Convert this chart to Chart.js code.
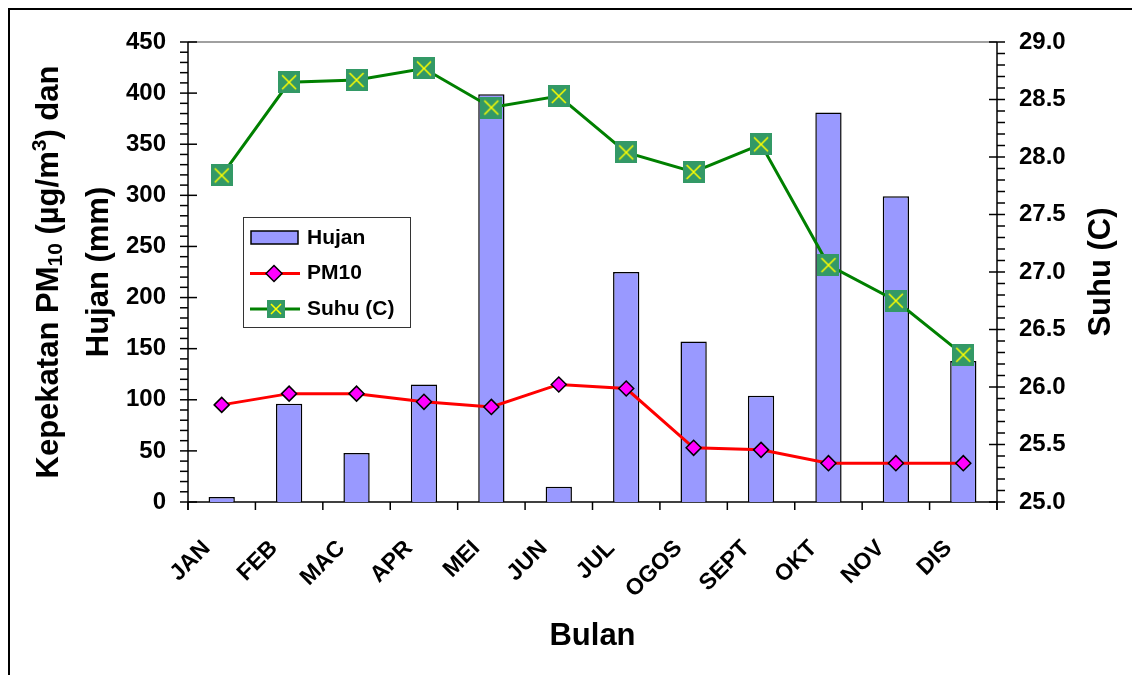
<!DOCTYPE html>
<html>
<head>
<meta charset="utf-8">
<title>Hujan, PM10 dan Suhu</title>
<script src="https://cdn.jsdelivr.net/npm/chart.js"></script>
<style>
  html, body { margin: 0; padding: 0; background: #fff; }
  #wadah { width: 1132px; height: 675px; }
</style>
</head>
<body>
<div id="wadah"><canvas id="grafik"></canvas></div>
<script>
// Data bulanan
const bulan = ["JAN", "FEB", "MAC", "APR", "MEI", "JUN", "JUL", "OGOS", "SEPT", "OKT", "NOV", "DIS"];
const hujan = [5, 96, 48, 115, 399, 15, 225, 157, 104, 381, 299, 138]; // mm
const pm10 = [95, 106, 106, 98, 93, 115, 111, 53, 51, 38, 38, 38]; // ug/m3
const suhu = [27.84, 28.65, 28.67, 28.77, 28.43, 28.53, 28.04, 27.87, 28.11, 27.06, 26.75, 26.28]; // C

// Skala paksi
const kiriMin = 0, kiriMax = 450, kiriLangkah = 50, kiriMinor = 10;
const kananMin = 25, kananMax = 29, kananLangkah = 0.5, kananMinor = 0.1;

const HURUF = '"Liberation Sans", Arial, sans-serif';
Chart.defaults.font.family = HURUF;
Chart.defaults.color = "#000";

//----------------------------- penanda suhu: kotak hijau dengan silang kuning
function buatPenandaSuhu(ukuran) {
  const c = document.createElement("canvas");
  c.width = ukuran;
  c.height = ukuran;
  const g = c.getContext("2d");
  g.fillStyle = "#339966";
  g.fillRect(0, 0, ukuran, ukuran);
  g.strokeStyle = "#ffff00";
  g.lineWidth = 1.5;
  const t = 4;
  g.beginPath();
  g.moveTo(t, t);
  g.lineTo(ukuran - t, ukuran - t);
  g.moveTo(ukuran - t, t);
  g.lineTo(t, ukuran - t);
  g.stroke();
  return c;
}
const penandaSuhu = buatPenandaSuhu(22);
const penandaSuhuKecil = buatPenandaSuhu(18);

function garis(ctx, x1, y1, x2, y2) {
  ctx.beginPath();
  ctx.moveTo(x1, y1);
  ctx.lineTo(x2, y2);
  ctx.stroke();
}

function berlian(ctx, x, y, r) {
  ctx.beginPath();
  ctx.moveTo(x, y - r);
  ctx.lineTo(x + r, y);
  ctx.lineTo(x, y + r);
  ctx.lineTo(x - r, y);
  ctx.closePath();
  ctx.fill();
  ctx.stroke();
}

// tulis teks berputar dengan subskrip/superskrip: bahagian = [[teks, jenis], ...]
function tulisBerputar(ctx, bahagian, cx, cy, saiz) {
  const fonBiasa = "bold " + saiz + "px " + HURUF;
  const fonKecil = "bold " + Math.round(saiz * 0.68) + "px " + HURUF;
  let jumlah = 0;
  for (const [t, j] of bahagian) {
    ctx.font = j ? fonKecil : fonBiasa;
    jumlah += ctx.measureText(t).width;
  }
  ctx.save();
  ctx.translate(cx, cy);
  ctx.rotate(-Math.PI / 2);
  ctx.textAlign = "left";
  ctx.textBaseline = "alphabetic";
  ctx.fillStyle = "#000";
  const garisDasar = saiz * 0.35;
  let x = -jumlah / 2;
  for (const [t, j] of bahagian) {
    ctx.font = j ? fonKecil : fonBiasa;
    let dy = 0;
    if (j === "sub") dy = saiz * 0.12;
    if (j === "sup") dy = -saiz * 0.38;
    ctx.fillText(t, x, garisDasar + dy);
    x += ctx.measureText(t).width;
  }
  ctx.restore();
}

//----------------------------- bingkai, tanda paksi, legenda, tajuk
const rangkaGrafik = {
  id: "rangkaGrafik",
  beforeDatasetsDraw(chart) {
    const { ctx, chartArea: a, scales } = chart;
    ctx.save();
    ctx.lineWidth = 1.5;
    ctx.strokeStyle = "#808080";
    garis(ctx, a.left, a.top, a.right, a.top);
    ctx.strokeStyle = "#000";
    garis(ctx, a.left, a.top, a.left, a.bottom + 8);
    garis(ctx, a.right, a.top, a.right, a.bottom + 8);
    garis(ctx, a.left, a.bottom, a.right, a.bottom);

    // tanda paksi kiri
    for (let v = kiriMin; v <= kiriMax; v += kiriMinor) {
      const y = scales.y.getPixelForValue(v);
      const major = v % kiriLangkah === 0;
      garis(ctx, a.left - 8, y, major ? a.left + 9 : a.left, y);
    }
    // tanda paksi kanan
    const n = Math.round((kananMax - kananMin) / kananMinor);
    for (let i = 0; i <= n; i++) {
      const y = scales.y1.getPixelForValue(kananMin + i * kananMinor);
      const major = i % Math.round(kananLangkah / kananMinor) === 0;
      garis(ctx, major ? a.right - 8 : a.right, y, a.right + 8, y);
    }
    // tanda paksi bawah (di antara bulan)
    for (let i = 0; i <= bulan.length; i++) {
      let x;
      if (i === 0) x = a.left;
      else if (i === bulan.length) x = a.right;
      else x = (scales.x.getPixelForValue(i - 1) + scales.x.getPixelForValue(i)) / 2;
      garis(ctx, x, a.bottom, x, a.bottom + 8);
    }
    ctx.restore();
  },
  afterDraw(chart) {
    const { ctx, chartArea: a } = chart;
    const tengahY = (a.top + a.bottom) / 2;

    // tajuk paksi kiri (dua baris) dan kanan
    tulisBerputar(ctx, [["Kepekatan PM", ""], ["10", "sub"], [" (\u00b5g/m", ""], ["3", "sup"], [") dan", ""]], 47, tengahY, 31);
    tulisBerputar(ctx, [["Hujan (mm)", ""]], 97, tengahY, 31);
    tulisBerputar(ctx, [["Suhu (C)", ""]], 1099, tengahY, 31);

    ctx.save();
    // legenda
    ctx.fillStyle = "#fff";
    ctx.fillRect(243, 217, 167, 110);
    ctx.strokeStyle = "#333";
    ctx.lineWidth = 1;
    ctx.strokeRect(243.5, 217.5, 167, 110);

    const baris = [238, 273.5, 309];
    const ds = chart.data.datasets;

    ctx.fillStyle = "#9999ff";
    ctx.fillRect(251, 231, 47, 13);
    ctx.strokeStyle = "#000";
    ctx.lineWidth = 1.5;
    ctx.strokeRect(251, 231, 47, 13);

    ctx.strokeStyle = "#ff0000";
    ctx.lineWidth = 3;
    garis(ctx, 250, baris[1], 300, baris[1]);
    ctx.fillStyle = "#ff00ff";
    ctx.strokeStyle = "#000";
    ctx.lineWidth = 1.5;
    berlian(ctx, 274, baris[1], 8);

    ctx.strokeStyle = "#008000";
    ctx.lineWidth = 3;
    garis(ctx, 250, baris[2], 300, baris[2]);
    ctx.drawImage(penandaSuhuKecil, 276 - 9, baris[2] - 9);

    ctx.fillStyle = "#000";
    ctx.font = "bold 21px " + HURUF;
    ctx.textAlign = "left";
    ctx.textBaseline = "middle";
    for (let i = 0; i < 3; i++) {
      ctx.fillText(ds[i].label, 307, baris[i]);
    }

    // bingkai luar
    ctx.strokeStyle = "#000";
    ctx.lineWidth = 2;
    garis(ctx, 9, 8, 9, 675);
    garis(ctx, 8, 9, 1132, 9);
    ctx.restore();
  }
};

//----------------------------- grafik
const config = {
  data: {
    labels: bulan,
    datasets: [
      {
        type: "bar",
        label: "Hujan",
        data: hujan,
        yAxisID: "y",
        backgroundColor: "#9999ff",
        borderColor: "#000",
        borderWidth: 1.5,
        barPercentage: 0.39,
        categoryPercentage: 1,
        order: 3
      },
      {
        type: "line",
        label: "PM10",
        data: pm10,
        yAxisID: "y",
        borderColor: "#ff0000",
        borderWidth: 3,
        pointStyle: "rectRot",
        pointRadius: 7.5,
        pointBackgroundColor: "#ff00ff",
        pointBorderColor: "#000",
        pointBorderWidth: 1.5,
        tension: 0,
        order: 2
      },
      {
        type: "line",
        label: "Suhu (C)",
        data: suhu,
        yAxisID: "y1",
        borderColor: "#008000",
        borderWidth: 3,
        pointStyle: penandaSuhu,
        pointRadius: 11,
        tension: 0,
        order: 1
      }
    ]
  },
  options: {
    responsive: true,
    maintainAspectRatio: false,
    animation: false,
    layout: { padding: { top: 42, left: 0, right: 0, bottom: 0 } },
    plugins: {
      legend: { display: false },
      tooltip: { enabled: false }
    },
    scales: {
      x: {
        type: "category",
        offset: true,
        grid: { display: false, drawTicks: false },
        border: { display: false },
        ticks: {
          autoSkip: false,
          minRotation: 45,
          maxRotation: 45,
          labelOffset: -15,
          padding: 33,
          font: { size: 23, weight: "bold" }
        },
        title: {
          display: true,
          text: "Bulan",
          font: { size: 31, weight: "bold" },
          padding: { top: 0, bottom: 20 }
        },
        afterFit: (s) => { s.height = 173; }
      },
      y: {
        position: "left",
        min: kiriMin,
        max: kiriMax,
        grid: { display: false, drawTicks: false },
        border: { display: false },
        ticks: {
          stepSize: kiriLangkah,
          padding: 22,
          font: { size: 24, weight: "bold" }
        },
        afterFit: (s) => { s.width = 188; }
      },
      y1: {
        position: "right",
        min: kananMin,
        max: kananMax,
        grid: { display: false, drawTicks: false },
        border: { display: false },
        ticks: {
          stepSize: kananLangkah,
          padding: 22,
          font: { size: 24, weight: "bold" },
          callback: (v) => Number(v).toFixed(1)
        },
        afterFit: (s) => { s.width = 135; }
      }
    }
  },
  plugins: [rangkaGrafik]
};

new Chart(document.getElementById("grafik"), config);
</script>
</body>
</html>
